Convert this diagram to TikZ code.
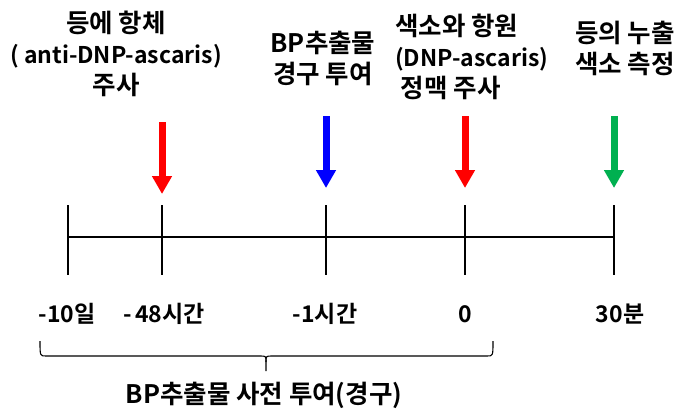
\documentclass[tikz,border=0pt]{standalone}
\usepackage{fontspec}
\setmainfont{Noto Sans CJK KR}[BoldFont={* Bold}]
\usetikzlibrary{arrows.meta}
\definecolor{myred}{RGB}{255,0,0}
\definecolor{myblue}{RGB}{0,0,255}
\definecolor{mygreen}{RGB}{0,176,80}
\newcommand\hs{\fontsize{25.5}{31}\selectfont}
\newcommand\ls{\fontsize{23}{31}\selectfont}
\tikzset{
  lbl/.style={font=\bfseries\hs, align=center, inner sep=0pt},
  tick/.style={line width=1.4pt},
  evarrow/.style={line width=7pt, -{Triangle[width=19pt,length=18pt]}},
}
\begin{document}
\begin{tikzpicture}[x=1pt,y=-1pt]
\useasboundingbox (0,0) rectangle (679,409);
% ticks
\foreach \n/\x in {a/68,b/162,c/326,d/465,e/614}{
  \coordinate (t\n) at (\x,205);
  \coordinate (m\n) at (\x,237);
  \coordinate (b\n) at (\x,275);
  \draw[tick] (t\n) -- (b\n);
}
\draw[tick] (ma) -- (me);
% arrows
\coordinate (ra1) at (162,122); \coordinate (ra2) at (162,194);
\coordinate (ba1) at (326,116); \coordinate (ba2) at (326,188);
\coordinate (rb1) at (465,116); \coordinate (rb2) at (465,188);
\coordinate (ga1) at (614,116); \coordinate (ga2) at (614,188);
\draw[evarrow, myred] (ra1) -- (ra2);
\draw[evarrow, myblue] (ba1) -- (ba2);
\draw[evarrow, myred] (rb1) -- (rb2);
\draw[evarrow, mygreen] (ga1) -- (ga2);
% top labels
\node[lbl] (L1) at (116,54) {등에 항체\\{\ls( anti-DNP-ascaris)}\\주사};
\node[lbl] (L2) at (323,58) {BP추출물\\경구 투여};
\node[lbl, align=left, anchor=west] (L3) at (395,57) {색소와 항원\\{\ls(DNP-ascaris)}\\\ 정맥 주사};
\node[lbl] (L4) at (625,48) {등의 누출\\색소 측정};
% bottom labels
\node[lbl, font=\bfseries\ls] (B1) at (67,314) {-10일};
\node[lbl, font=\bfseries\ls] (B2) at (164,314) {-\,48시간};
\node[lbl, font=\bfseries\ls] (B3) at (325,314) {-1시간};
\node[lbl, font=\bfseries\ls] (B4) at (465,314) {0};
\node[lbl, font=\bfseries\ls] (B5) at (620,314) {30분};
% brace
\coordinate (brL) at (40,341);
\coordinate (brLc) at (46,356);
\coordinate (brM1) at (260,356);
\coordinate (brMs) at (266,362);
\coordinate (brTip) at (266,371);
\coordinate (brM2) at (272,356);
\coordinate (brRc) at (487,356);
\coordinate (brR) at (493,341);
\draw[line width=1.1pt, line join=round]
  (brL) .. controls (40,356) .. (brLc) -- (brM1) .. controls (266,356) .. (brMs) -- (brTip);
\draw[line width=1.1pt, line join=round]
  (brMs) .. controls (266,356) .. (brM2) -- (brRc) .. controls (493,356) .. (brR);
\node[lbl] (BR) at (264,395) {BP추출물 사전 투여(경구)};
\end{tikzpicture}
\end{document}
